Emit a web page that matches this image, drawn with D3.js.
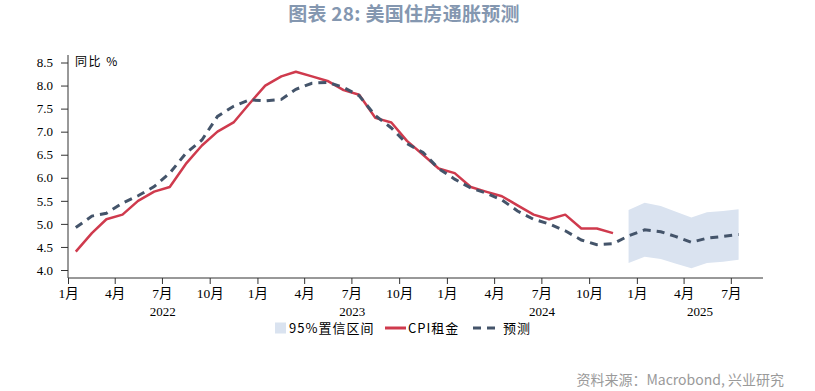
<!DOCTYPE html>
<html>
<head>
<meta charset="utf-8">
<script src="https://cdn.jsdelivr.net/npm/d3@7"></script>
<style>
    body { margin: 0; background: #fff; }
    svg { display: block; }
</style>
</head>
<body>
<div id="chart"></div>
<script>
// Data (monthly, Jan 2022 onward)
const rentStart = [2022, 0];
const rentValues = [
    4.4, 4.8, 5.1, 5.2, 5.5, 5.7, 5.8, 6.3, 6.7, 7.0, 7.2, 7.6,
    8.0, 8.2, 8.3, 8.2, 8.1, 7.9, 7.8, 7.3, 7.2, 6.8, 6.5, 6.2,
    6.1, 5.8, 5.7, 5.6, 5.4, 5.2, 5.1, 5.2, 4.9, 4.9, 4.8
];
const forecastStart = [2022, 0];
const forecastValues = [
    4.92, 5.17, 5.23, 5.45, 5.61, 5.81, 6.10, 6.53, 6.82, 7.33, 7.55, 7.69,
    7.67, 7.70, 7.92, 8.05, 8.07, 7.96, 7.78, 7.35, 7.08, 6.74, 6.55, 6.20,
    5.97, 5.78, 5.67, 5.52, 5.28, 5.10, 5.00, 4.85, 4.65, 4.55, 4.57, 4.74,
    4.87, 4.83, 4.73, 4.60, 4.69, 4.73, 4.77
];
const bandStart = [2024, 11];
const bandUpper = [5.30, 5.46, 5.39, 5.27, 5.14, 5.25, 5.28, 5.32];
const bandLower = [4.15, 4.29, 4.24, 4.14, 4.04, 4.15, 4.18, 4.22];
const yTicks = [4.0, 4.5, 5.0, 5.5, 6.0, 6.5, 7.0, 7.5, 8.0, 8.5];
const years = [2022, 2023, 2024, 2025];

// Colors
const rentColor = '#cf3a4d';
const forecastColor = '#44546a';
const bandColor = '#dae3f0';
const axisColor = '#333333';

const width = 815;
const height = 391;
const serif = '"Liberation Serif", "Noto Sans CJK SC", serif';
const cjk = '"Noto Sans CJK SC", sans-serif';

// Helper: month index -> mid-month date
const monthDate = (start, i) => new Date(start[0], start[1] + i, 16);

const svg = d3.select('#chart').append('svg')
    .attr('width', width)
    .attr('height', height);

const x = d3.scaleTime()
    .domain([new Date(2022, 0, 1), new Date(2025, 8, 1)])
    .range([68, 763]);
const y = d3.scaleLinear()
    .domain([4.0, 8.5])
    .range([270, 62.5]);
const axisY = 278;
const axisTop = 55;

// Title
svg.append('text')
    .attr('x', 404)
    .attr('y', 21)
    .attr('text-anchor', 'middle')
    .attr('font-family', cjk)
    .attr('font-size', 19)
    .attr('font-weight', 'bold')
    .attr('letter-spacing', 0.3)
    .attr('fill', '#8497b0')
    .text('图表 28: 美国住房通胀预测');

// Confidence band
const bandData = bandUpper.map((u, i) => ({date: monthDate(bandStart, i), hi: u, lo: bandLower[i]}));
svg.append('path')
    .datum(bandData)
    .attr('d', d3.area().x(d => x(d.date)).y0(d => y(d.lo)).y1(d => y(d.hi)))
    .attr('fill', bandColor);

// Lines
const line = d3.line().x(d => x(d.date)).y(d => y(d.v));
const rentData = rentValues.map((v, i) => ({date: monthDate(rentStart, i), v}));
const forecastData = forecastValues.map((v, i) => ({date: monthDate(forecastStart, i), v}));

svg.append('path')
    .datum(rentData)
    .attr('d', line)
    .attr('fill', 'none')
    .attr('stroke', rentColor)
    .attr('stroke-width', 2.5)
    .attr('stroke-linejoin', 'round');

svg.append('path')
    .datum(forecastData)
    .attr('d', line)
    .attr('fill', 'none')
    .attr('stroke', forecastColor)
    .attr('stroke-width', 3)
    .attr('stroke-dasharray', '8,6');

// Y axis
const yAxis = svg.append('g')
    .attr('transform', 'translate(68,0)')
    .call(d3.axisLeft(y).tickValues(yTicks).tickFormat(d3.format('.1f')).tickSize(7).tickPadding(8));
yAxis.select('.domain').attr('d', `M0,${axisTop}V${axisY}`).attr('stroke', axisColor);
yAxis.selectAll('.tick line').attr('stroke', axisColor);
yAxis.selectAll('text').attr('font-family', serif).attr('font-size', 13).attr('fill', '#000');

svg.append('text')
    .attr('x', 75)
    .attr('y', 66)
    .attr('font-family', cjk)
    .attr('font-size', 12)
    .attr('letter-spacing', 1.5)
    .attr('fill', '#000')
    .text('同比 %');

// X axis
const xAxis = svg.append('g')
    .attr('transform', `translate(0,${axisY})`)
    .call(d3.axisBottom(x).ticks(d3.timeMonth.every(3)).tickFormat(d => `${d.getMonth() + 1}月`).tickSize(6).tickPadding(4));
xAxis.select('.domain').attr('d', `M68,0H763`).attr('stroke', axisColor);
xAxis.selectAll('.tick line').attr('stroke', axisColor);
xAxis.selectAll('text').attr('font-family', serif).attr('font-size', 13.5).attr('fill', '#000');

// Year labels, centred on each year's visible span
const xEnd = x.domain()[1];
svg.selectAll('.year')
    .data(years)
    .enter()
    .append('text')
    .attr('class', 'year')
    .attr('x', d => {
        const a = new Date(d, 0, 1);
        const b = new Date(Math.min(new Date(d + 1, 0, 1), xEnd));
        return (x(a) + x(b)) / 2;
    })
    .attr('y', 316)
    .attr('text-anchor', 'middle')
    .attr('font-family', serif)
    .attr('font-size', 13)
    .attr('fill', '#000')
    .text(d => d);

// Legend
const legend = svg.append('g').attr('font-family', cjk).attr('font-size', 13).attr('fill', '#000');
const legendY = 328;
legend.append('rect')
    .attr('x', 275).attr('y', legendY - 5.5)
    .attr('width', 11).attr('height', 11)
    .attr('fill', bandColor);
legend.append('text')
    .attr('x', 289).attr('y', legendY + 4.5)
    .attr('letter-spacing', 1)
    .text('95%置信区间');
legend.append('line')
    .attr('x1', 385).attr('x2', 406).attr('y1', legendY).attr('y2', legendY)
    .attr('stroke', rentColor).attr('stroke-width', 3);
legend.append('text')
    .attr('x', 408).attr('y', legendY + 4.5)
    .attr('letter-spacing', 1)
    .text('CPI租金');
legend.append('line')
    .attr('x1', 473).attr('x2', 500).attr('y1', legendY).attr('y2', legendY)
    .attr('stroke', forecastColor).attr('stroke-width', 3)
    .attr('stroke-dasharray', '8,6');
legend.append('text')
    .attr('x', 503).attr('y', legendY + 4.5)
    .attr('letter-spacing', 1)
    .text('预测');

// Source
svg.append('text')
    .attr('x', 784)
    .attr('y', 385)
    .attr('text-anchor', 'end')
    .attr('font-family', cjk)
    .attr('font-size', 14)
    .attr('fill', '#9a9a9a')
    .text('资料来源：Macrobond, 兴业研究');
</script>
</body>
</html>
